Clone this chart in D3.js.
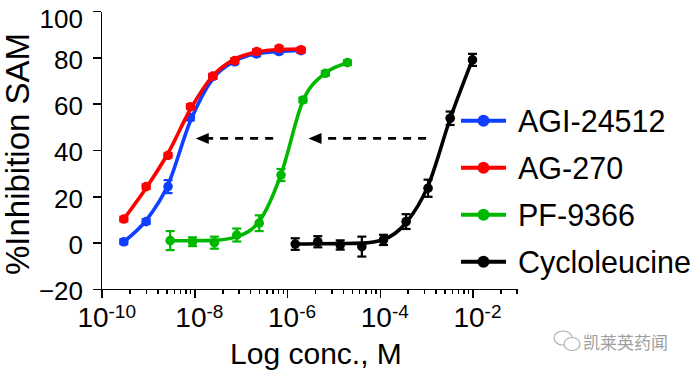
<!DOCTYPE html>
<html>
<head>
<meta charset="utf-8">
<script src="https://cdn.jsdelivr.net/npm/d3@7/dist/d3.min.js"></script>
<style>
  html, body { margin: 0; padding: 0; background: #fff; }
  svg { display: block; font-family: Arial, "Liberation Sans", sans-serif; }
  .axis path, .axis line { stroke: #000; stroke-width: 1.5px; shape-rendering: crispEdges; }
</style>
</head>
<body>
<svg id="chart" width="691" height="373"></svg>
<script>
// ---- data ----
var seriesNames = ["AGI-24512", "AG-270", "PF-9366", "Cycloleucine"];
var seriesColors = ["#1040ff", "#ff0000", "#00b800", "#000000"];

var agiConc = [3.0e-10, 9.1e-10, 2.7e-9, 8.2e-9, 2.5e-8, 7.4e-8, 2.2e-7, 6.7e-7, 2.0e-6];
var agiMean = [0.4, 9.1, 24.2, 54.0, 71.7, 78.1, 81.5, 82.5, 82.9];
var agiErr  = [1.0, 1.0, 2.8, 1.2, 1.0, 1.0, 1.0, 1.0, 1.0];
var agiFit  = [0.4, 9.6, 25.0, 52.5, 70.8, 78.4, 81.6, 82.6, 83.0];

var ag270Conc = [3.0e-10, 9.1e-10, 2.7e-9, 8.2e-9, 2.5e-8, 7.4e-8, 2.2e-7, 6.7e-7, 2.0e-6];
var ag270Mean = [10.2, 24.2, 37.7, 58.7, 71.9, 78.6, 82.5, 83.9, 83.2];
var ag270Err  = [1.0, 1.0, 1.0, 1.0, 1.0, 1.0, 1.0, 1.0, 1.0];
var ag270Fit  = [10.2, 23.6, 38.6, 57.6, 72.0, 79.2, 82.3, 83.4, 83.6];

var pfConc = [3.0e-9, 9.1e-9, 2.7e-8, 8.2e-8, 2.5e-7, 7.4e-7, 2.2e-6, 6.7e-6, 2.0e-5];
var pfMean = [0.9, 0.4, 0.0, 3.3, 8.4, 29.2, 61.6, 73.1, 77.7];
var pfErr  = [4.1, 1.9, 2.6, 2.8, 3.4, 2.6, 1.0, 1.0, 1.0];
var pfFit  = [0.8, 0.8, 1.0, 2.6, 9.2, 29.5, 61.2, 73.2, 77.6];

var cycloConc = [1.5e-6, 4.6e-6, 1.4e-5, 4.1e-5, 1.2e-4, 3.7e-4, 1.1e-3, 3.3e-3, 1.0e-2];
var cycloMean = [-0.6, 0.4, -1.0, -1.7, 1.2, 9.1, 23.5, 53.7, 78.9];
var cycloErr  = [2.5, 2.4, 2.0, 4.3, 2.2, 3.2, 3.7, 2.9, 2.6];
var cycloFit  = [-0.6, -0.5, -0.4, -0.2, 1.4, 8.6, 24.5, 53.5, 79.0];

// potency-shift arrows: from conc -> to conc at a % level
var arrowFrom = [5.0e-7, 1.0e-3];
var arrowTo   = [1.07e-8, 2.9e-6];
var arrowLevel = 45;

var yTicks = [-20, 0, 20, 40, 60, 80, 100];
var xMajorExp = [-10, -8, -6, -4, -2];
var xDomain = [1e-10, 9e-2];

// ---- scales ----
var svg = d3.select("#chart");
var x = d3.scaleLog().domain(xDomain).range([101.7, 516.7]);
var y = d3.scaleLinear().domain([-20, 100]).range([289, 11]);

// ---- axes ----
// minor ticks: Prism puts 8 minors per 2-decade step, at log10(k) fractions
var minorTicks = [];
xMajorExp.forEach(function (e) {
    for (var k = 2; k <= 9; k++) {
        var v = Math.pow(10, e) * k * k;
        if (v <= xDomain[1] * 1.0001) minorTicks.push(v);
    }
});

svg.append("g").attr("class", "axis")
    .attr("transform", "translate(0,289)")
    .call(d3.axisBottom(x).tickValues(minorTicks).tickSize(5).tickSizeOuter(0).tickFormat(""));

svg.append("g").attr("class", "axis")
    .attr("transform", "translate(0,289)")
    .call(d3.axisBottom(x).tickValues(xMajorExp.map(function (e) { return Math.pow(10, e); }))
        .tickSize(9).tickSizeOuter(0).tickFormat(""));

var xl = svg.append("g").selectAll("text").data(xMajorExp).enter().append("text")
    .attr("x", function (e) { return x(Math.pow(10, e)) + 5; })
    .attr("y", 326.5)
    .attr("text-anchor", "middle")
    .style("font-size", "28px");
xl.append("tspan").text("10");
xl.append("tspan").attr("dy", -8.5).style("font-size", "19px").text(function (e) { return "-" + Math.abs(e); });

var yAxis = svg.append("g").attr("class", "axis")
    .attr("transform", "translate(101,0)")
    .call(d3.axisLeft(y).tickValues(yTicks).tickSize(8).tickSizeOuter(0).tickPadding(10));
yAxis.selectAll("text")
    .attr("fill", "#000")
    .attr("dy", function (d) { return d === 100 ? "0.62em" : "0.42em"; })
    .style("font-size", "26px")
    .style("font-family", "Arial, 'Liberation Sans', sans-serif");

// axis titles
svg.append("text")
    .attr("x", 316).attr("y", 364)
    .attr("text-anchor", "middle")
    .style("font-size", "30px")
    .text("Log conc., M");

svg.append("text")
    .attr("transform", "translate(28.5,154) rotate(-90)")
    .attr("text-anchor", "middle")
    .style("font-size", "33px")
    .text("%Inhibition SAM");

// ---- series ----
var series = [
    { conc: agiConc, mean: agiMean, err: agiErr, fit: agiFit },
    { conc: ag270Conc, mean: ag270Mean, err: ag270Err, fit: ag270Fit },
    { conc: pfConc, mean: pfMean, err: pfErr, fit: pfFit },
    { conc: cycloConc, mean: cycloMean, err: cycloErr, fit: cycloFit }
];

var line = d3.line()
    .x(function (d) { return x(d[0]); })
    .y(function (d) { return y(d[1]); })
    .curve(d3.curveMonotoneX);

series.forEach(function (s, i) {
    var col = seriesColors[i];
    var g = svg.append("g");
    var pts = s.conc.map(function (c, j) { return { c: c, m: s.mean[j], e: s.err[j] }; });

    g.append("path")
        .datum(s.conc.map(function (c, j) { return [c, s.fit[j]]; }))
        .attr("d", line)
        .attr("fill", "none")
        .attr("stroke", col)
        .attr("stroke-width", 3.6);

    // error bars
    var eb = g.selectAll(".eb").data(pts).enter().append("g")
        .attr("stroke", col).attr("stroke-width", 2.2);
    eb.append("line")
        .attr("x1", function (d) { return x(d.c); }).attr("x2", function (d) { return x(d.c); })
        .attr("y1", function (d) { return y(d.m + d.e); }).attr("y2", function (d) { return y(d.m - d.e); });
    eb.append("line")
        .attr("x1", function (d) { return x(d.c) - 4.5; }).attr("x2", function (d) { return x(d.c) + 4.5; })
        .attr("y1", function (d) { return y(d.m + d.e); }).attr("y2", function (d) { return y(d.m + d.e); });
    eb.append("line")
        .attr("x1", function (d) { return x(d.c) - 4.5; }).attr("x2", function (d) { return x(d.c) + 4.5; })
        .attr("y1", function (d) { return y(d.m - d.e); }).attr("y2", function (d) { return y(d.m - d.e); });

    g.selectAll("circle").data(pts).enter().append("circle")
        .attr("cx", function (d) { return x(d.c); })
        .attr("cy", function (d) { return y(d.m); })
        .attr("r", 4.8)
        .attr("fill", col);
});

// ---- dashed arrows ----
arrowFrom.forEach(function (f, i) {
    var x0 = x(f), x1 = x(arrowTo[i]), yy = y(arrowLevel);
    svg.append("line")
        .attr("x1", x0).attr("x2", x1 + 12)
        .attr("y1", yy).attr("y2", yy)
        .attr("stroke", "#000").attr("stroke-width", 2.8)
        .attr("stroke-dasharray", "8,7");
    svg.append("path")
        .attr("d", "M" + x1 + "," + yy + "L" + (x1 + 13) + "," + (yy - 5.5) + "L" + (x1 + 13) + "," + (yy + 5.5) + "Z")
        .attr("fill", "#000");
});

// ---- legend ----
var leg = svg.append("g").selectAll("g").data(seriesNames).enter().append("g")
    .attr("transform", function (d, i) { return "translate(461," + (120.7 + i * 47) + ")"; });
leg.append("line")
    .attr("x1", 0).attr("x2", 45).attr("y1", 0).attr("y2", 0)
    .attr("stroke", function (d, i) { return seriesColors[i]; })
    .attr("stroke-width", 4);
leg.append("circle")
    .attr("cx", 22.5).attr("r", 6)
    .attr("fill", function (d, i) { return seriesColors[i]; });
leg.append("text")
    .attr("x", 57).attr("dy", "0.36em")
    .style("font-size", "30.5px")
    .text(function (d) { return d; });

// ---- watermark ----
var wm = svg.append("g").attr("fill", "#fff").attr("stroke", "#b0b0b0").attr("stroke-width", 1.2);
wm.append("ellipse").attr("cx", 563).attr("cy", 338).attr("rx", 9).attr("ry", 7);
wm.append("ellipse").attr("cx", 572).attr("cy", 344).attr("rx", 8).attr("ry", 6.5);
svg.append("text")
    .attr("x", 583).attr("y", 349)
    .style("font-family", "'Noto Sans CJK SC', sans-serif")
    .style("font-size", "17px")
    .attr("fill", "#a0a0a0")
    .text("凯莱英药闻");
</script>
</body>
</html>
